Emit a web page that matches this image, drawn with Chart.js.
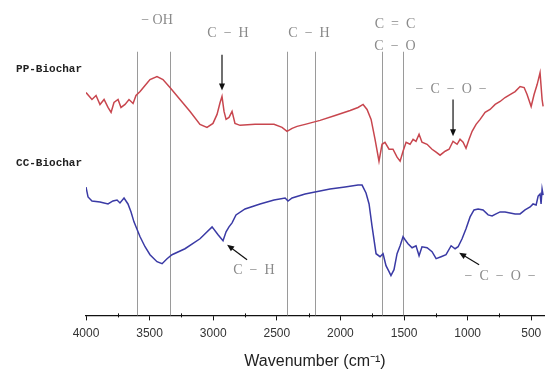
<!DOCTYPE html>
<html>
<head>
<meta charset="utf-8">
<script src="https://cdn.jsdelivr.net/npm/chart.js@4.4.1/dist/chart.umd.min.js"></script>
<style>
  html, body { margin: 0; padding: 0; background: #fff; }
  #wrap { width: 548px; height: 372px; position: relative; }
</style>
</head>
<body>
<div id="wrap"><canvas id="ftir"></canvas></div>
<script>
// wavenumbers (cm-1) and offset transmittance (a.u.)
const ppWave = [4000, 3953, 3921, 3890, 3858, 3827, 3803, 3780, 3748, 3725, 3693, 3662, 3630, 3607, 3575, 3536, 3497, 3442, 3395, 3340, 3261, 3182, 3104, 3049, 3002, 2970, 2946, 2931, 2915, 2899, 2876, 2852, 2829, 2789, 2671, 2522, 2459, 2420, 2380, 2341, 2278, 2160, 2042, 1924, 1862, 1822, 1791, 1759, 1728, 1697, 1673, 1650, 1618, 1587, 1555, 1531, 1508, 1484, 1453, 1429, 1406, 1382, 1359, 1319, 1280, 1248, 1217, 1177, 1146, 1115, 1083, 1060, 1036, 1013, 989, 965, 934, 902, 863, 824, 784, 745, 706, 667, 627, 588, 556, 533, 501, 478, 454, 431, 415, 407];
const ppValue = [224, 217, 221, 212, 217, 209, 204, 214, 217, 209, 212, 217, 213, 221, 225, 231, 237, 240, 237, 229, 217, 205, 192, 189, 193, 202, 214, 220, 205, 197, 199, 205, 193, 191, 192, 192, 189, 185, 188, 190, 192, 196, 201, 206, 209, 212, 207, 197, 177, 155, 172, 174, 167, 167, 159, 155, 165, 174, 172, 177, 175, 182, 174, 172, 167, 164, 161, 165, 167, 175, 172, 177, 174, 168, 177, 185, 192, 197, 204, 207, 212, 215, 219, 222, 225, 230, 229, 222, 210, 222, 232, 244, 217, 210];

const ccWave = [4000, 3984, 3953, 3890, 3827, 3788, 3756, 3733, 3701, 3670, 3646, 3623, 3575, 3536, 3497, 3442, 3402, 3363, 3324, 3222, 3104, 3009, 2962, 2923, 2899, 2876, 2852, 2821, 2750, 2632, 2522, 2435, 2412, 2380, 2278, 2200, 2082, 1964, 1862, 1830, 1799, 1775, 1752, 1720, 1689, 1665, 1642, 1618, 1603, 1579, 1555, 1531, 1508, 1492, 1469, 1437, 1406, 1382, 1359, 1319, 1280, 1248, 1209, 1170, 1130, 1099, 1075, 1044, 1013, 981, 950, 918, 879, 839, 808, 777, 745, 706, 667, 627, 588, 549, 509, 486, 462, 446, 431, 423, 415, 407];
const ccValue = [129, 119, 115, 114, 112, 115, 116, 113, 118, 112, 104, 94, 79, 69, 61, 54, 52, 57, 61, 67, 77, 89, 81, 75, 84, 89, 93, 101, 107, 112, 116, 118, 115, 118, 122, 124, 127, 129, 131, 131, 123, 112, 90, 62, 59, 62, 50, 44, 40, 46, 62, 70, 79, 76, 72, 68, 70, 60, 69, 68, 64, 57, 59, 61, 70, 67, 69, 77, 87, 99, 106, 107, 106, 101, 100, 102, 104, 104, 103, 102, 102, 106, 109, 112, 111, 120, 122, 112, 127, 121];

const xTicks = [4000, 3500, 3000, 2500, 2000, 1500, 1000, 500];
const bandLines = [3600, 3340, 2420, 2200, 1675, 1510];

const toPoints = (xs, ys) => xs.map((x, i) => ({ x: x, y: ys[i] }));

// labels and arrows, placed in data coordinates
const notes = [
  { text: '\u2212 OH', x: 3442, y: 297 },
  { text: 'C  \u2212  H', x: 2884, y: 284 },
  { text: 'C  \u2212  H', x: 2247, y: 284 },
  { text: 'C  =  C', x: 1571, y: 293 },
  { text: 'C  \u2212  O', x: 1571, y: 270 },
  { text: '\u2212  C  \u2212  O  \u2212', x: 1130, y: 227 },
  { text: 'C  \u2212  H', x: 2680, y: 45 },
  { text: '\u2212  C  \u2212  O  \u2212', x: 745, y: 39 }
];
const arrows = [
  { from: [2931, 262], to: [2931, 226] },
  { from: [1115, 217], to: [1115, 180] },
  { from: [2734, 56], to: [2891, 71] },
  { from: [910, 51], to: [1067, 63] }
];
const seriesNames = [
  { text: 'PP-Biochar', x: 4550, y: 247 },
  { text: 'CC-Biochar', x: 4550, y: 153 }
];

const annotate = {
  id: 'annotate',
  beforeDatasetsDraw(chart) {
    const { ctx, scales: { x, y } } = chart;
    ctx.save();
    ctx.strokeStyle = '#9a9a9a';
    ctx.lineWidth = 1;
    bandLines.forEach(w => {
      const px = Math.round(x.getPixelForValue(w)) + 0.5;
      ctx.beginPath();
      ctx.moveTo(px, y.getPixelForValue(265));
      ctx.lineTo(px, y.getPixelForValue(0));
      ctx.stroke();
    });
    ctx.restore();
  },
  afterDatasetsDraw(chart) {
    const { ctx, scales: { x, y } } = chart;
    ctx.save();
    // minor ticks cross the axis line
    ctx.strokeStyle = '#111';
    ctx.lineWidth = 1;
    const axisY = y.getPixelForValue(0);
    x.ticks.filter(t => !xTicks.includes(t.value)).forEach(t => {
      const px = Math.round(x.getPixelForValue(t.value)) + 0.5;
      ctx.beginPath();
      ctx.moveTo(px, axisY - 2);
      ctx.lineTo(px, axisY + 2);
      ctx.stroke();
    });

    ctx.fillStyle = '#8a8a8a';
    ctx.font = '14px "Liberation Serif", serif';
    ctx.textAlign = 'center';
    ctx.textBaseline = 'middle';
    notes.forEach(n => ctx.fillText(n.text, x.getPixelForValue(n.x), y.getPixelForValue(n.y)));

    ctx.strokeStyle = '#111';
    ctx.fillStyle = '#111';
    ctx.lineWidth = 1.2;
    arrows.forEach(a => {
      const x0 = x.getPixelForValue(a.from[0]), y0 = y.getPixelForValue(a.from[1]);
      const x1 = x.getPixelForValue(a.to[0]), y1 = y.getPixelForValue(a.to[1]);
      const ang = Math.atan2(y1 - y0, x1 - x0);
      ctx.beginPath();
      ctx.moveTo(x0, y0);
      ctx.lineTo(x1 - 4 * Math.cos(ang), y1 - 4 * Math.sin(ang));
      ctx.stroke();
      ctx.beginPath();
      ctx.moveTo(x1, y1);
      ctx.lineTo(x1 - 7 * Math.cos(ang) + 3 * Math.sin(ang), y1 - 7 * Math.sin(ang) - 3 * Math.cos(ang));
      ctx.lineTo(x1 - 7 * Math.cos(ang) - 3 * Math.sin(ang), y1 - 7 * Math.sin(ang) + 3 * Math.cos(ang));
      ctx.closePath();
      ctx.fill();
    });

    ctx.fillStyle = '#222';
    ctx.font = 'bold 11px "Liberation Mono", monospace';
    ctx.textAlign = 'left';
    seriesNames.forEach(s => ctx.fillText(s.text, x.getPixelForValue(s.x), y.getPixelForValue(s.y)));
    ctx.restore();
  }
};

new Chart(document.getElementById('ftir'), {
  type: 'line',
  data: {
    datasets: [
      {
        label: 'PP-Biochar',
        data: toPoints(ppWave, ppValue),
        borderColor: 'rgb(200, 70, 78)',
        borderWidth: 1.5,
        pointRadius: 0,
        tension: 0
      },
      {
        label: 'CC-Biochar',
        data: toPoints(ccWave, ccValue),
        borderColor: 'rgb(58, 58, 165)',
        borderWidth: 1.5,
        pointRadius: 0,
        tension: 0
      }
    ]
  },
  options: {
    responsive: true,
    maintainAspectRatio: false,
    animation: false,
    layout: { padding: { left: 86, right: 4, top: 0, bottom: 1 } },
    plugins: { legend: { display: false }, tooltip: { enabled: false } },
    scales: {
      x: {
        type: 'linear',
        reverse: true,
        min: 400,
        max: 4000,
        border: { color: '#111', width: 1.2 },
        grid: {
          drawOnChartArea: false,
          tickLength: 5,
          color: c => (c.tick && xTicks.includes(c.tick.value)) ? '#111' : 'rgba(0,0,0,0)'
        },
        ticks: {
          stepSize: 250,
          includeBounds: false,
          padding: 6,
          color: '#333',
          font: { family: '"Liberation Sans", Arial, sans-serif', size: 12 },
          autoSkip: false,
          maxRotation: 0,
          callback: v => xTicks.includes(v) ? String(v) : ''
        },
        title: {
          display: true,
          text: 'Wavenumber (cm\u207B\u00B9)',
          color: '#222',
          font: { family: '"Liberation Sans", Arial, sans-serif', size: 16 },
          padding: { top: 5, bottom: 0 }
        }
      },
      y: {
        display: false,
        min: 0,
        max: 317
      }
    }
  },
  plugins: [annotate]
});
</script>
</body>
</html>
